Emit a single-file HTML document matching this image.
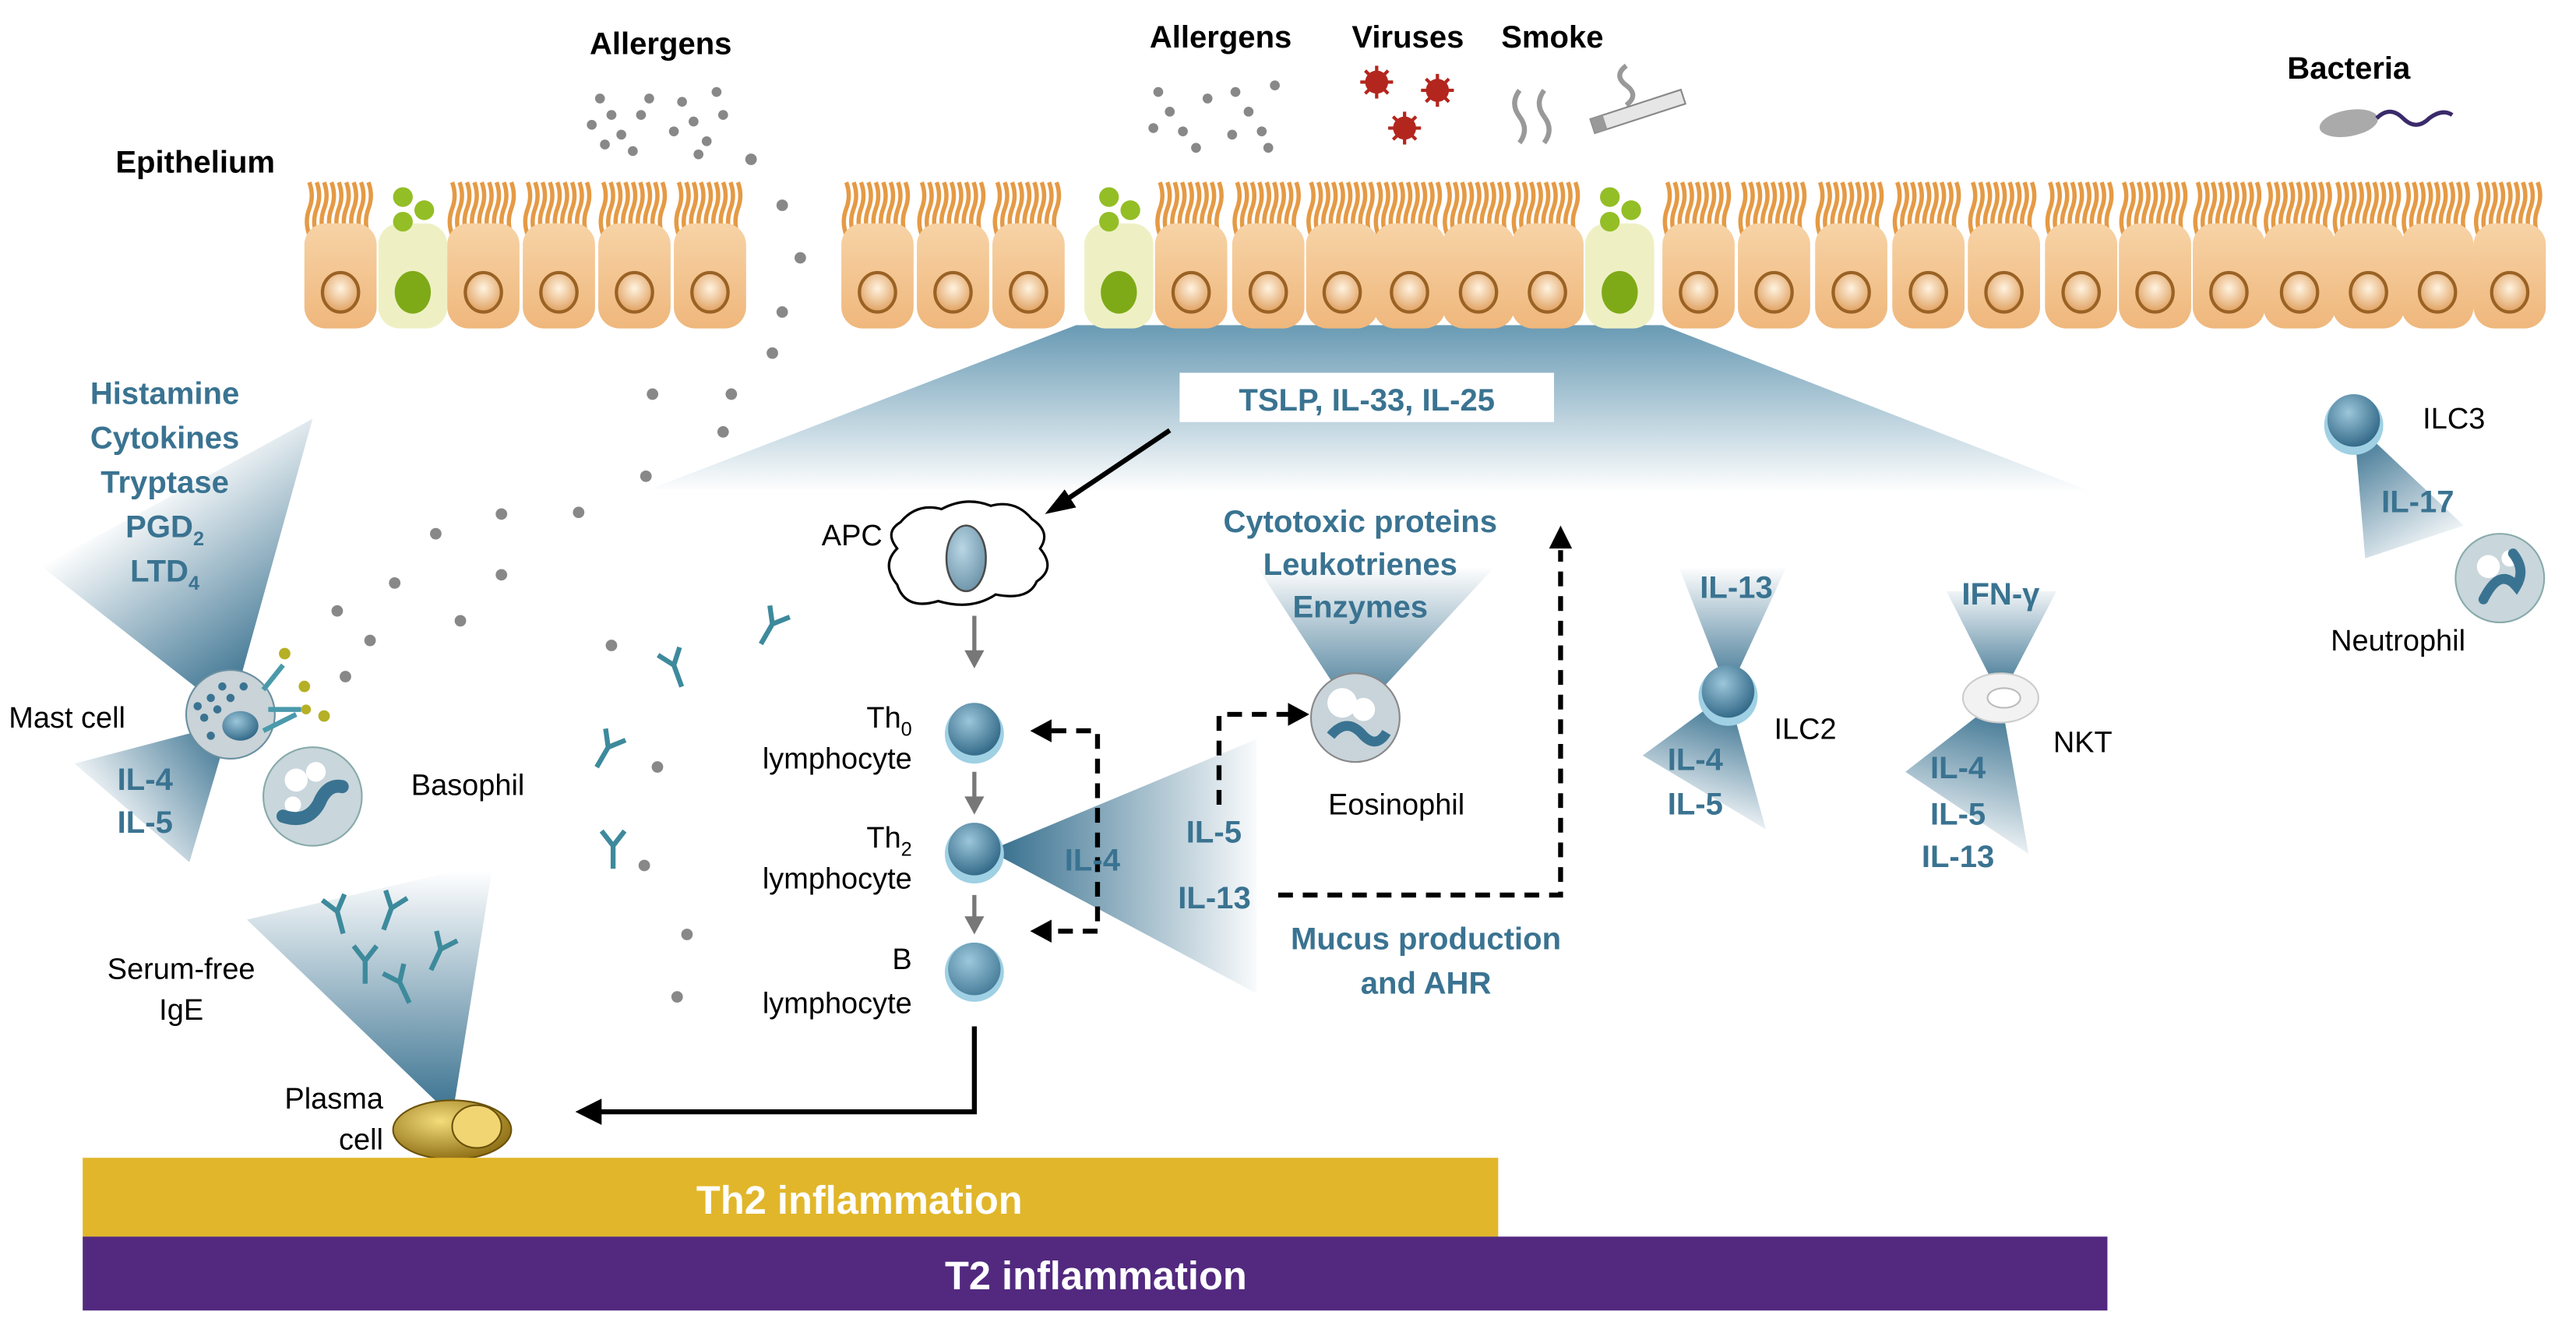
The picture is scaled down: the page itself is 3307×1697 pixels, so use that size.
<!DOCTYPE html>
<html><head><meta charset="utf-8"><style>
html,body{margin:0;padding:0;background:#fff}
svg{display:block}
text{font-family:"Liberation Sans",Arial,sans-serif}
.b{fill:#3a7391;font-weight:bold;font-size:19px}
.k{fill:#000;font-size:18px}
.h{fill:#000;font-weight:bold;font-size:19px}
</style></head><body>
<svg width="3307" height="1697" viewBox="0 0 1568 805" xmlns="http://www.w3.org/2000/svg">
<defs>
<linearGradient id="body" x1="0" y1="0" x2="0" y2="1"><stop offset="0" stop-color="#f7d3a6"/><stop offset="1" stop-color="#efb77c"/></linearGradient>
<radialGradient id="nuc" cx="0.5" cy="0.4" r="0.6"><stop offset="0" stop-color="#fff3e0"/><stop offset="1" stop-color="#e0a060"/></radialGradient>
<radialGradient id="cellb" cx="0.4" cy="0.35" r="0.7"><stop offset="0" stop-color="#9cc6da"/><stop offset="1" stop-color="#2e6584"/></radialGradient>
<radialGradient id="gold" cx="0.4" cy="0.35" r="0.7"><stop offset="0" stop-color="#f3dc7a"/><stop offset="1" stop-color="#8a6a10"/></radialGradient>
<linearGradient id="gbig" x1="0" y1="200" x2="0" y2="300" gradientUnits="userSpaceOnUse"><stop offset="0" stop-color="#5b91ad" stop-opacity="0.9"/><stop offset="1" stop-color="#5b91ad" stop-opacity="0"/></linearGradient>
<symbol id="cil" overflow="visible">
<g stroke="#e59a45" stroke-width="2.6" fill="none">
<path d="M3 35 q-3-8 0-16 q3-8 0-16"/><path d="M7.5 35 q-3-8 0-16 q3-8 0-16"/><path d="M12 35 q-3-8 0-16 q3-8 0-16"/><path d="M16.5 35 q-3-8 0-16 q3-8 0-16"/><path d="M21 35 q-3-8 0-16 q3-8 0-16"/><path d="M25.5 35 q-3-8 0-16 q3-8 0-16"/><path d="M30 35 q-3-8 0-16 q3-8 0-16"/><path d="M34.5 35 q-3-8 0-16 q3-8 0-16"/><path d="M39 35 q-3-8 0-16 q3-8 0-16"/></g></symbol>
<symbol id="cell" overflow="visible">
<use href="#cil"/>
<rect x="0" y="28" width="44" height="64" rx="13" fill="url(#body)"/>
<ellipse cx="22" cy="70" rx="11" ry="12" fill="url(#nuc)" stroke="#9a6224" stroke-width="2"/></symbol>
<symbol id="gob" overflow="visible">
<rect x="0" y="28" width="42" height="64" rx="13" fill="#eef0c4"/>
<ellipse cx="21" cy="70" rx="11" ry="13" fill="#7faa18"/>
<circle cx="15" cy="12" r="6" fill="#94be26"/><circle cx="28" cy="20" r="6" fill="#94be26"/><circle cx="15" cy="27" r="6" fill="#94be26"/></symbol>
<symbol id="ab" overflow="visible"><g stroke="#3d8a9c" stroke-width="3" fill="none"><path d="M0 0 v14 M0 0 l-7 -9 M0 0 l7 -9"/></g></symbol>
</defs>

<polygon points="655,198 1012,198 1275,300 395,298" fill="url(#gbig)"/>

<g transform="translate(0,108)">
<use href="#cell" x="185"/><use href="#gob" x="230"/><use href="#cell" x="272"/><use href="#cell" x="318"/><use href="#cell" x="364"/><use href="#cell" x="410"/>
<use href="#cell" x="512"/><use href="#cell" x="558"/><use href="#cell" x="604"/><use href="#gob" x="660"/><use href="#cell" x="703"/><use href="#cell" x="750"/><use href="#cell" x="795"/><use href="#cell" x="836"/><use href="#cell" x="878"/><use href="#cell" x="920"/><use href="#gob" x="965"/><use href="#cell" x="1012"/><use href="#cell" x="1058"/><use href="#cell" x="1105"/><use href="#cell" x="1152"/><use href="#cell" x="1198"/><use href="#cell" x="1245"/><use href="#cell" x="1290"/><use href="#cell" x="1335"/><use href="#cell" x="1378"/><use href="#cell" x="1420"/><use href="#cell" x="1462"/><use href="#cell" x="1506"/>
</g>

<text class="h" x="402" y="33" text-anchor="middle">Allergens</text>
<text class="h" x="743" y="29" text-anchor="middle">Allergens</text>
<text class="h" x="857" y="29" text-anchor="middle">Viruses</text>
<text class="h" x="945" y="29" text-anchor="middle">Smoke</text>
<text class="h" x="1430" y="48" text-anchor="middle">Bacteria</text>
<text class="h" x="70" y="105" font-size="17">Epithelium</text>

<g fill="#888">
<circle cx="365" cy="60" r="3"/><circle cx="372" cy="70" r="3"/><circle cx="378" cy="82" r="3"/><circle cx="385" cy="92" r="3"/><circle cx="368" cy="88" r="3"/><circle cx="390" cy="70" r="3"/><circle cx="395" cy="60" r="3"/><circle cx="360" cy="76" r="3"/>
<circle cx="415" cy="62" r="3"/><circle cx="422" cy="74" r="3"/><circle cx="430" cy="86" r="3"/><circle cx="436" cy="56" r="3"/><circle cx="440" cy="70" r="3"/><circle cx="410" cy="80" r="3"/><circle cx="425" cy="94" r="3"/>
<circle cx="705" cy="56" r="3"/><circle cx="712" cy="68" r="3"/><circle cx="720" cy="80" r="3"/><circle cx="728" cy="90" r="3"/><circle cx="735" cy="60" r="3"/><circle cx="702" cy="78" r="3"/>
<circle cx="752" cy="56" r="3"/><circle cx="760" cy="68" r="3"/><circle cx="768" cy="80" r="3"/><circle cx="776" cy="52" r="3"/><circle cx="750" cy="82" r="3"/><circle cx="772" cy="90" r="3"/>
</g>
<g fill="#b3261e" stroke="#b3261e" stroke-width="2">
<circle cx="838" cy="50" r="6"/><path d="M828 50h20M838 40v20M831 43l14 14M845 43l-14 14"/>
<circle cx="875" cy="55" r="6"/><path d="M865 55h20M875 45v20M868 48l14 14M882 48l-14 14"/>
<circle cx="855" cy="78" r="6"/><path d="M845 78h20M855 68v20M848 71l14 14M862 71l-14 14"/>
</g>
<g stroke="#999" stroke-width="3" fill="none">
<path d="M925 55 q-6 8 0 16 q6 8 0 16"/><path d="M940 55 q-6 8 0 16 q6 8 0 16"/><path d="M990 40 q-8 6 0 12 q8 6 0 12"/>
</g>
<g transform="rotate(-18 995 68)"><rect x="968" y="64" width="58" height="9" fill="#e6e6e6" stroke="#888"/><rect x="968" y="64" width="8" height="9" fill="#999"/></g>
<ellipse cx="1430" cy="75" rx="18" ry="8" fill="#aaa" transform="rotate(-10 1430 75)"/>
<path d="M1447 72 q8 -8 16 0 q8 8 16 0 q8 -6 14 -2" stroke="#3a2a6a" stroke-width="2.5" fill="none"/>

<g fill="#888">
<circle cx="457" cy="97" r="3.5"/><circle cx="476" cy="125" r="3.5"/><circle cx="487" cy="157" r="3.5"/><circle cx="476" cy="190" r="3.5"/><circle cx="470" cy="215" r="3.5"/><circle cx="445" cy="240" r="3.5"/><circle cx="440" cy="263" r="3.5"/><circle cx="397" cy="240" r="3.5"/>
<circle cx="352" cy="312" r="3.5"/><circle cx="305" cy="313" r="3.5"/><circle cx="393" cy="290" r="3.5"/><circle cx="265" cy="325" r="3.5"/><circle cx="240" cy="355" r="3.5"/><circle cx="305" cy="350" r="3.5"/><circle cx="280" cy="378" r="3.5"/><circle cx="205" cy="372" r="3.5"/><circle cx="225" cy="390" r="3.5"/><circle cx="210" cy="412" r="3.5"/><circle cx="372" cy="393" r="3.5"/><circle cx="400" cy="467" r="3.5"/><circle cx="392" cy="527" r="3.5"/><circle cx="418" cy="569" r="3.5"/><circle cx="412" cy="607" r="3.5"/>
</g>
<use href="#ab" x="470" y="380" transform="rotate(30 470 380)"/>
<use href="#ab" x="410" y="405" transform="rotate(-20 410 405)"/>
<use href="#ab" x="370" y="455" transform="rotate(30 370 455)"/>
<use href="#ab" x="373" y="515"/>

<rect x="718" y="227" width="228" height="30" fill="#fff"/>
<text class="b" x="832" y="250" text-anchor="middle" font-size="21">TSLP, IL-33, IL-25</text>
<path d="M712 262 L645 307" stroke="#000" stroke-width="3"/>
<polygon points="636,313 648,298 655,309" fill="#000"/>

<path d="M548 318 q10-12 25-8 q15-8 30-2 q15-4 25 8 q12 8 5 18 q10 12 -2 20 q-5 12-25 8 q-15 10-35 4 q-20 6-25-10 q-10-12 0-22 q-8-10 2-16z" fill="#fff" stroke="#000" stroke-width="1.5"/>
<ellipse cx="588" cy="340" rx="12" ry="20" fill="url(#cellb)" stroke="#000" stroke-width="1.2" opacity="0.7"/>
<text class="k" x="500" y="332">APC</text>

<g stroke="#777" stroke-width="2.5"><path d="M593 375V398M593 470V487M593 545V560"/></g>
<g fill="#777"><polygon points="587,396 599,396 593,407"/><polygon points="587,485 599,485 593,496"/><polygon points="587,558 599,558 593,569"/></g>
<linearGradient id="gth2" x1="600" y1="0" x2="770" y2="0" gradientUnits="userSpaceOnUse"><stop offset="0" stop-color="#2f6a8a"/><stop offset="1" stop-color="#2f6a8a" stop-opacity="0"/></linearGradient>
<polygon points="602,518 765,450 765,605" fill="url(#gth2)"/>
<circle cx="593" cy="447" r="18" fill="#9fd0e4"/><circle cx="593" cy="444" r="16" fill="url(#cellb)"/>
<circle cx="593" cy="520" r="18" fill="#9fd0e4"/><circle cx="593" cy="517" r="16" fill="url(#cellb)"/>
<circle cx="593" cy="592" r="18" fill="#9fd0e4"/><circle cx="593" cy="590" r="16" fill="url(#cellb)" opacity="0.8"/>
<g text-anchor="end">
<text class="k" x="555" y="443">Th<tspan font-size="12" dy="5">0</tspan></text>
<text class="k" x="555" y="468">lymphocyte</text>
<text class="k" x="555" y="516">Th<tspan font-size="12" dy="5">2</tspan></text>
<text class="k" x="555" y="541">lymphocyte</text>
<text class="k" x="555" y="590">B</text>
<text class="k" x="555" y="617">lymphocyte</text>
</g>
<g stroke="#000" stroke-width="3" fill="none" stroke-dasharray="9 6"><path d="M640 445H668V567H640"/></g>
<polygon points="627,445 640,438 640,452" fill="#000"/><polygon points="627,567 640,560 640,574" fill="#000"/>
<text class="b" x="648" y="530">IL-4</text>
<text class="b" x="722" y="513">IL-5</text>
<g stroke="#000" stroke-width="3" fill="none" stroke-dasharray="9 6"><path d="M742 490V435H785"/><path d="M778 545H950V335"/></g>
<polygon points="797,435 784,428 784,442" fill="#000"/><polygon points="950,320 943,334 957,334" fill="#000"/>
<text class="b" x="717" y="553">IL-13</text>
<text class="b" x="868" y="578" text-anchor="middle">Mucus production</text>
<text class="b" x="868" y="605" text-anchor="middle">and AHR</text>

<linearGradient id="geo" x1="0" y1="440" x2="0" y2="345" gradientUnits="userSpaceOnUse"><stop offset="0" stop-color="#2f6a8a"/><stop offset="1" stop-color="#2f6a8a" stop-opacity="0"/></linearGradient>
<polygon points="825,437 765,345 910,345" fill="url(#geo)"/>
<circle cx="825" cy="437" r="27" fill="#c8d4da" stroke="#888"/>
<circle cx="817" cy="428" r="9" fill="#fff"/><circle cx="830" cy="432" r="7" fill="#fff"/>
<path d="M810 448 q10-12 20 0 q8 8 14-2" stroke="#3a7391" stroke-width="6" fill="none"/>
<text class="k" x="850" y="496" text-anchor="middle">Eosinophil</text>
<text class="b" x="828" y="324" text-anchor="middle">Cytotoxic proteins</text>
<text class="b" x="828" y="350" text-anchor="middle">Leukotrienes</text>
<text class="b" x="828" y="376" text-anchor="middle">Enzymes</text>

<path d="M593 625V677H365" stroke="#000" stroke-width="3" fill="none"/>
<polygon points="350,677 366,669 366,685" fill="#000"/>
<linearGradient id="gpl" x1="0" y1="685" x2="0" y2="530" gradientUnits="userSpaceOnUse"><stop offset="0" stop-color="#2f6a8a"/><stop offset="1" stop-color="#2f6a8a" stop-opacity="0"/></linearGradient>
<polygon points="275,680 150,560 300,525" fill="url(#gpl)"/>
<use href="#ab" x="205" y="555" transform="rotate(-15 205 555)"/>
<use href="#ab" x="238" y="553" transform="rotate(20 238 553)"/>
<use href="#ab" x="222" y="585"/>
<use href="#ab" x="268" y="578" transform="rotate(25 268 578)"/>
<use href="#ab" x="243" y="598" transform="rotate(-25 243 598)"/>
<ellipse cx="275" cy="688" rx="36" ry="18" fill="url(#gold)" stroke="#6b520a"/>
<ellipse cx="290" cy="686" rx="15" ry="13" fill="#f1d572" stroke="#6b520a"/>
<text class="k" x="233" y="675" text-anchor="end">Plasma</text>
<text class="k" x="233" y="700" text-anchor="end">cell</text>
<text class="k" x="110" y="596" text-anchor="middle">Serum-free</text>
<text class="k" x="110" y="621" text-anchor="middle">IgE</text>

<linearGradient id="gm1" x1="140" y1="435" x2="60" y2="320" gradientUnits="userSpaceOnUse"><stop offset="0" stop-color="#2f6a8a"/><stop offset="1" stop-color="#2f6a8a" stop-opacity="0"/></linearGradient>
<polygon points="140,435 25,345 190,255" fill="url(#gm1)"/>
<linearGradient id="gm2" x1="140" y1="440" x2="60" y2="500" gradientUnits="userSpaceOnUse"><stop offset="0" stop-color="#2f6a8a"/><stop offset="1" stop-color="#2f6a8a" stop-opacity="0"/></linearGradient>
<polygon points="140,440 45,465 115,525" fill="url(#gm2)"/>
<circle cx="140" cy="435" r="27" fill="#c9d3d8" stroke="#6a8fa0"/>
<g fill="#3a7391"><circle cx="128" cy="425" r="2.5"/><circle cx="135" cy="418" r="2.5"/><circle cx="124" cy="437" r="2.5"/><circle cx="132" cy="432" r="2.5"/><circle cx="128" cy="448" r="2.5"/><circle cx="140" cy="425" r="2.5"/><circle cx="148" cy="418" r="2.5"/><circle cx="120" cy="430" r="2.5"/></g>
<ellipse cx="146" cy="442" rx="11" ry="9" fill="url(#cellb)"/>
<g stroke="#4a9aab" stroke-width="3"><path d="M160 420 l12-15 M163 432h20 M160 445 l20-10"/></g>
<g fill="#b5b025"><circle cx="173" cy="398" r="3.5"/><circle cx="185" cy="418" r="3.5"/><circle cx="197" cy="436" r="3.5"/><circle cx="186" cy="432" r="3"/></g>
<text class="b" x="100" y="246" text-anchor="middle">Histamine</text>
<text class="b" x="100" y="273" text-anchor="middle">Cytokines</text>
<text class="b" x="100" y="300" text-anchor="middle">Tryptase</text>
<text class="b" x="100" y="327" text-anchor="middle">PGD<tspan font-size="12" dy="5">2</tspan></text>
<text class="b" x="100" y="354" text-anchor="middle">LTD<tspan font-size="12" dy="5">4</tspan></text>
<text class="k" x="5" y="443">Mast cell</text>
<text class="b" x="88" y="481" text-anchor="middle">IL-4</text>
<text class="b" x="88" y="507" text-anchor="middle">IL-5</text>
<circle cx="190" cy="485" r="30" fill="#c9d6dc" stroke="#8aa"/>
<circle cx="180" cy="475" r="7" fill="#fff"/><circle cx="192" cy="470" r="6" fill="#fff"/><circle cx="178" cy="490" r="5" fill="#fff"/>
<path d="M172 497 q15 5 22-8 q5-12 14-10" stroke="#3a7391" stroke-width="8" fill="none" stroke-linecap="round"/>
<text class="k" x="250" y="484">Basophil</text>

<linearGradient id="gi2" x1="0" y1="425" x2="0" y2="345" gradientUnits="userSpaceOnUse"><stop offset="0" stop-color="#2f6a8a"/><stop offset="1" stop-color="#2f6a8a" stop-opacity="0"/></linearGradient>
<polygon points="1052,422 1020,340 1090,340" fill="url(#gi2)"/>
<linearGradient id="gi2b" x1="1052" y1="425" x2="1030" y2="500" gradientUnits="userSpaceOnUse"><stop offset="0" stop-color="#2f6a8a"/><stop offset="1" stop-color="#2f6a8a" stop-opacity="0"/></linearGradient>
<polygon points="1052,422 1000,460 1075,505" fill="url(#gi2b)"/>
<circle cx="1052" cy="424" r="18" fill="#9fd0e4"/><circle cx="1052" cy="421" r="16" fill="url(#cellb)"/>
<text class="b" x="1057" y="364" text-anchor="middle">IL-13</text>
<text class="k" x="1080" y="450">ILC2</text>
<text class="b" x="1032" y="469" text-anchor="middle">IL-4</text>
<text class="b" x="1032" y="496" text-anchor="middle">IL-5</text>

<linearGradient id="gn1" x1="0" y1="425" x2="0" y2="355" gradientUnits="userSpaceOnUse"><stop offset="0" stop-color="#2f6a8a"/><stop offset="1" stop-color="#2f6a8a" stop-opacity="0"/></linearGradient>
<polygon points="1218,425 1185,360 1252,360" fill="url(#gn1)"/>
<linearGradient id="gn2" x1="1218" y1="425" x2="1195" y2="520" gradientUnits="userSpaceOnUse"><stop offset="0" stop-color="#2f6a8a"/><stop offset="1" stop-color="#2f6a8a" stop-opacity="0"/></linearGradient>
<polygon points="1218,425 1160,470 1235,520" fill="url(#gn2)"/>
<ellipse cx="1218" cy="425" rx="23" ry="15" fill="#f2f2f2" stroke="#ccc"/>
<ellipse cx="1220" cy="425" rx="10" ry="6" fill="#fff" stroke="#bbb"/>
<text class="b" x="1218" y="368" text-anchor="middle">IFN-γ</text>
<text class="k" x="1250" y="458">NKT</text>
<text class="b" x="1192" y="474" text-anchor="middle">IL-4</text>
<text class="b" x="1192" y="502" text-anchor="middle">IL-5</text>
<text class="b" x="1192" y="528" text-anchor="middle">IL-13</text>

<linearGradient id="gi3" x1="1433" y1="260" x2="1480" y2="340" gradientUnits="userSpaceOnUse"><stop offset="0" stop-color="#2f6a8a"/><stop offset="1" stop-color="#2f6a8a" stop-opacity="0"/></linearGradient>
<polygon points="1433,257 1440,340 1500,320" fill="url(#gi3)"/>
<circle cx="1433" cy="259" r="18" fill="#9fd0e4"/><circle cx="1433" cy="256" r="16" fill="url(#cellb)"/>
<text class="k" x="1475" y="261">ILC3</text>
<text class="b" x="1472" y="312" text-anchor="middle">IL-17</text>
<circle cx="1522" cy="352" r="27" fill="#c9d6dc" stroke="#8aa"/>
<circle cx="1515" cy="345" r="7" fill="#fff"/><circle cx="1528" cy="340" r="5" fill="#fff"/>
<path d="M1512 365 q10-20 20-8 q6-10 -2-20" stroke="#3a7391" stroke-width="6" fill="none" stroke-linecap="round"/>
<text class="k" x="1460" y="396" text-anchor="middle">Neutrophil</text>

<rect x="50" y="705" width="862" height="48" fill="#e1b62a"/>
<text x="523" y="739" text-anchor="middle" fill="#fff" font-weight="bold" font-size="24">Th2 inflammation</text>
<rect x="50" y="753" width="1233" height="45" fill="#52297f"/>
<text x="667" y="785" text-anchor="middle" fill="#fff" font-weight="bold" font-size="24">T2 inflammation</text>
</svg>
</body></html>
